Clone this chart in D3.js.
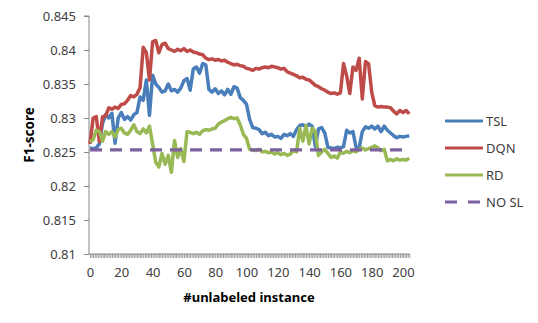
<!DOCTYPE html>
<html>
<head>
<meta charset="utf-8">
<script src="https://cdn.jsdelivr.net/npm/d3@7"></script>
<style>
  body { margin: 0; background: #fff; }
  text { font-family: "Noto Sans", sans-serif; }
</style>
</head>
<body>
<div id="chart"></div>
<script>
// x positions: every 2nd unlabeled-instance count
const instances = d3.range(0, 205, 2);

const tsl = [
  0.8256, 0.8255, 0.8256, 0.8262, 0.8292, 0.8305, 0.8300, 0.8307, 0.8263, 0.8300,
  0.8308, 0.8298, 0.8302, 0.8297, 0.8305, 0.8308, 0.8331, 0.8326, 0.8356, 0.8304,
  0.8363, 0.8350, 0.8345, 0.8338, 0.8340, 0.8350, 0.8340, 0.8342, 0.8338, 0.8344,
  0.8355, 0.8358, 0.8341, 0.8372, 0.8375, 0.8366, 0.8380, 0.8378, 0.8342, 0.8338,
  0.8343, 0.8336, 0.8340, 0.8334, 0.8342, 0.8335, 0.8346, 0.8344, 0.8330, 0.8326,
  0.8320, 0.8298, 0.8286, 0.8285, 0.8283, 0.8277, 0.8279, 0.8274, 0.8276, 0.8272,
  0.8273, 0.8270, 0.8276, 0.8274, 0.8277, 0.8273, 0.8283, 0.8289, 0.8290, 0.8287,
  0.8291, 0.8288, 0.8258, 0.8284, 0.8286, 0.8278, 0.8257, 0.8256, 0.8255, 0.8257,
  0.8256, 0.8258, 0.8282, 0.8278, 0.8280, 0.8257, 0.8256, 0.8280, 0.8287, 0.8285,
  0.8288, 0.8284, 0.8288, 0.8280, 0.8288, 0.8282, 0.8278, 0.8274, 0.8271, 0.8273,
  0.8272, 0.8273, 0.8274
];

const dqn = [
  0.8262, 0.8300, 0.8302, 0.8265, 0.8302, 0.8303, 0.8315, 0.8313, 0.8316, 0.8314,
  0.8320, 0.8321, 0.8326, 0.8333, 0.8331, 0.8335, 0.8345, 0.8404, 0.8396, 0.8356,
  0.8412, 0.8414, 0.8396, 0.8408, 0.8410, 0.8402, 0.8400, 0.8398, 0.8401, 0.8399,
  0.8402, 0.8398, 0.8400, 0.8397, 0.8396, 0.8394, 0.8393, 0.8388, 0.8386, 0.8387,
  0.8385, 0.8386, 0.8384, 0.8385, 0.8382, 0.8380, 0.8378, 0.8379, 0.8377, 0.8376,
  0.8373, 0.8372, 0.8370, 0.8373, 0.8372, 0.8374, 0.8375, 0.8374, 0.8376, 0.8375,
  0.8374, 0.8372, 0.8373, 0.8368, 0.8366, 0.8364, 0.8362, 0.8359, 0.8360, 0.8357,
  0.8356, 0.8352, 0.8348, 0.8346, 0.8343, 0.8341, 0.8338, 0.8336, 0.8337, 0.8335,
  0.8337, 0.8380, 0.8362, 0.8336, 0.8375, 0.8370, 0.8388, 0.8328, 0.8383, 0.8380,
  0.8338, 0.8318, 0.8316, 0.8317, 0.8316, 0.8316, 0.8315, 0.8310, 0.8306, 0.8311,
  0.8308, 0.8311, 0.8306
];

const rd = [
  0.8265, 0.8268, 0.8282, 0.8280, 0.8266, 0.8280, 0.8276, 0.8280, 0.8272, 0.8283,
  0.8285, 0.8278, 0.8276, 0.8282, 0.8290, 0.8280, 0.8277, 0.8284, 0.8278, 0.8288,
  0.8262, 0.8235, 0.8228, 0.8248, 0.8232, 0.8245, 0.8220, 0.8267, 0.8242, 0.8255,
  0.8236, 0.8280, 0.8279, 0.8277, 0.8279, 0.8276, 0.8281, 0.8283, 0.8282, 0.8284,
  0.8285, 0.8291, 0.8294, 0.8296, 0.8299, 0.8301, 0.8299, 0.8300, 0.8290, 0.8276,
  0.8270, 0.8254, 0.8253, 0.8252, 0.8254, 0.8250, 0.8251, 0.8249, 0.8250, 0.8247,
  0.8249, 0.8246, 0.8248, 0.8245, 0.8247, 0.8252, 0.8250, 0.8285, 0.8266, 0.8289,
  0.8262, 0.8285, 0.8280, 0.8245, 0.8250, 0.8254, 0.8248, 0.8242, 0.8244, 0.8241,
  0.8250, 0.8248, 0.8251, 0.8249, 0.8252, 0.8250, 0.8254, 0.8256, 0.8253, 0.8255,
  0.8257, 0.8259, 0.8256, 0.8252, 0.8254, 0.8237, 0.8239, 0.8237, 0.8240, 0.8238,
  0.8239, 0.8238, 0.8241
];

const noSL = 0.8253;

const seriesNames = ["TSL", "DQN", "RD", "NO SL"];
const seriesColors = ["#4a7ebb", "#be4b48", "#98b954", "#7d60a0"];
const yTicks = [0.81, 0.815, 0.82, 0.825, 0.83, 0.835, 0.84, 0.845];
const xTicks = [0, 20, 40, 60, 80, 100, 120, 140, 160, 180, 200];

const W = 538, H = 323;
const margin = { left: 89, top: 16, right: 128, bottom: 69 };

const svg = d3.select("#chart").append("svg")
  .attr("width", W)
  .attr("height", H);

const x = d3.scaleLinear()
  .domain([0, 200])
  .range([margin.left + 1, margin.left + 314]);

const y = d3.scaleLinear()
  .domain([0.81, 0.845])
  .range([H - margin.bottom, margin.top]);

const axisColor = "#868686";
const y0 = y(0.81);

// y axis
const yAxis = svg.append("g")
  .attr("transform", `translate(${margin.left},0)`)
  .call(d3.axisLeft(y).tickValues(yTicks).tickSize(5).tickPadding(8)
    .tickFormat(d => d3.format("")(+d.toFixed(3))));
yAxis.select(".domain").attr("stroke", axisColor).attr("d", `M-5,${y(0.845)}H0V${y0}`);
yAxis.selectAll(".tick line").attr("stroke", axisColor);
yAxis.selectAll("text").attr("fill", "#404040").style("font-size", "13px");

// x axis: dense category ticks
const xMinor = svg.append("g")
  .attr("transform", `translate(0,${y0})`)
  .call(d3.axisBottom(x).tickValues(d3.range(0, 205)).tickSize(4).tickFormat(""));
xMinor.select(".domain").attr("stroke", axisColor).attr("d", `M${margin.left},0H${x(204.5)}`);
xMinor.selectAll(".tick line").attr("stroke", axisColor).attr("stroke-width", 0.8);

// x axis labels
const xAxis = svg.append("g")
  .attr("transform", `translate(0,${y0})`)
  .call(d3.axisBottom(x).tickValues(xTicks).tickSize(0).tickPadding(14));
xAxis.select(".domain").remove();
xAxis.selectAll("text").attr("fill", "#404040").style("font-size", "13px");

// lines
const line = d3.line()
  .x((d, i) => x(instances[i]))
  .y(d => y(d));

[tsl, dqn, rd].forEach((vals, k) => {
  svg.append("path")
    .datum(vals)
    .attr("d", line)
    .attr("fill", "none")
    .attr("stroke", seriesColors[k])
    .attr("stroke-width", 3.5)
    .attr("stroke-linejoin", "round");
});

svg.append("line")
  .attr("x1", x(0)).attr("x2", x(204))
  .attr("y1", y(noSL)).attr("y2", y(noSL))
  .attr("stroke", seriesColors[3])
  .attr("stroke-width", 3.2)
  .attr("stroke-dasharray", "12,8");

// axis titles
svg.append("text")
  .attr("transform", `translate(34,${(y(0.845) + y0) / 2}) rotate(-90)`)
  .attr("text-anchor", "middle")
  .style("font-size", "13.5px")
  .style("font-weight", "bold")
  .attr("fill", "#000")
  .text("F1-score");

svg.append("text")
  .attr("x", 249)
  .attr("y", 302)
  .attr("text-anchor", "middle")
  .style("font-size", "13px")
  .style("font-weight", "bold")
  .attr("fill", "#000")
  .text("#unlabeled instance");

// legend
const legend = svg.append("g").attr("transform", "translate(445,121)");
seriesNames.forEach((name, k) => {
  const g = legend.append("g").attr("transform", `translate(0,${k * 27})`);
  g.append("line")
    .attr("x1", 0).attr("x2", 38)
    .attr("stroke", seriesColors[k])
    .attr("stroke-width", 3.2)
    .attr("stroke-dasharray", k === 3 ? "12,11" : null);
  g.append("text")
    .attr("x", 41)
    .attr("dy", "0.35em")
    .style("font-size", "13px")
    .attr("fill", "#404040")
    .text(name);
});
</script>
</body>
</html>
